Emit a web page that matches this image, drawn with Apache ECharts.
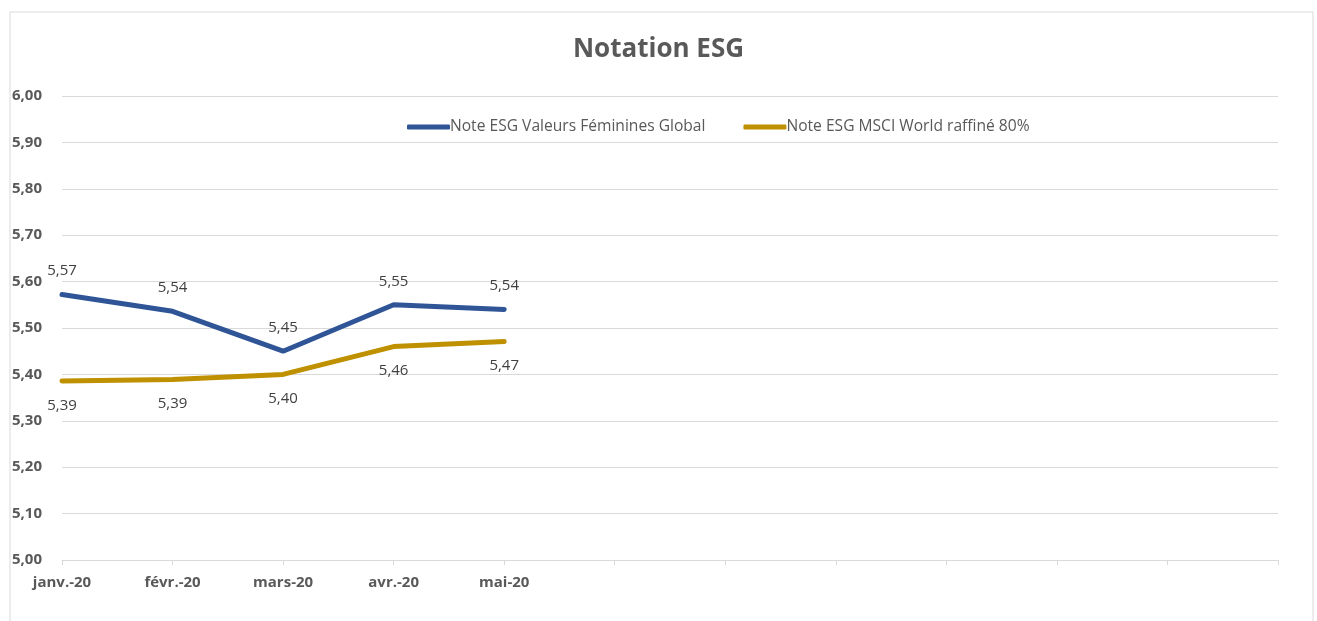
<!DOCTYPE html>
<html><head><meta charset="utf-8">
<script src="https://cdn.jsdelivr.net/npm/echarts@6/dist/echarts.min.js"></script>
<style>html,body{margin:0;padding:0;background:#fff}#c{width:1317px;height:621px}</style>
</head><body><div id="c"></div>
<script>
const categories = ['janv.-20','févr.-20','mars-20','avr.-20','mai-20','','','','','','',''];
const seriesNames = ['Note ESG Valeurs Féminines Global','Note ESG MSCI World raffiné 80%'];
const valeursFeminines = [5.572, 5.536, 5.45, 5.55, 5.54];
const msciWorld = [5.386, 5.389, 5.40, 5.46, 5.471];
const yTicks = {min: 5.0, max: 6.0, interval: 0.1};

const fmt = v => v.toFixed(2).replace('.', ',');
const chart = echarts.init(document.getElementById('c'));
chart.setOption({
  animation: false,
  textStyle: {fontFamily: 'Open Sans'},
  title: {text: 'Notation ESG', left: 'center', top: 32,
    textStyle: {fontSize: 26, fontWeight: 'bold', color: '#595959', fontFamily: 'Open Sans'}},
  legend: {left: 407, top: 119, padding: 0, itemWidth: 43, itemHeight: 5, itemGap: 38,
    icon: 'roundRect',
    textStyle: {fontSize: 15.6, color: '#595959', padding: [0,0,0,-5]},
    data: seriesNames},
  graphic: [{type: 'rect', shape: {x: 10, y: 12, width: 1303, height: 640},
    style: {fill: 'none', stroke: '#d9d9d9', lineWidth: 1}, silent: true}],
  grid: {left: 62, right: 39, top: 96, bottom: 61},
  xAxis: {type: 'category', data: categories, boundaryGap: false,
    axisLine: {lineStyle: {color: '#d9d9d9', width: 1}},
    axisTick: {show: true, length: 5, lineStyle: {color: '#d9d9d9'}, interval: 0},
    axisLabel: {interval: 0, margin: 15, fontSize: 15, fontWeight: 'bold', color: '#595959'}},
  yAxis: {type: 'value', min: yTicks.min, max: yTicks.max, interval: yTicks.interval,
    axisLine: {show: false}, axisTick: {show: false},
    splitLine: {lineStyle: {color: '#d9d9d9', width: 1}},
    axisLabel: {formatter: fmt, align: 'left', margin: 50, fontSize: 15, fontWeight: 'bold', color: '#595959'}},
  series: [
    {name: seriesNames[0], type: 'line', data: valeursFeminines, symbol: 'circle', symbolSize: 0.1, showSymbol: true,
      lineStyle: {width: 5, color: '#2F5597', cap: 'round'}, itemStyle: {color: '#2F5597'},
      label: {show: true, position: 'top', distance: 16, fontSize: 15, color: '#404040', formatter: p => fmt(p.value)},
      labelLayout: {hideOverlap: false}},
    {name: seriesNames[1], type: 'line', data: msciWorld, symbol: 'circle', symbolSize: 0.1, showSymbol: true,
      lineStyle: {width: 5, color: '#BF9000', cap: 'round'}, itemStyle: {color: '#BF9000'},
      label: {show: true, position: 'bottom', distance: 17, fontSize: 15, color: '#404040', formatter: p => fmt(p.value)}}
  ]
});
</script></body></html>
